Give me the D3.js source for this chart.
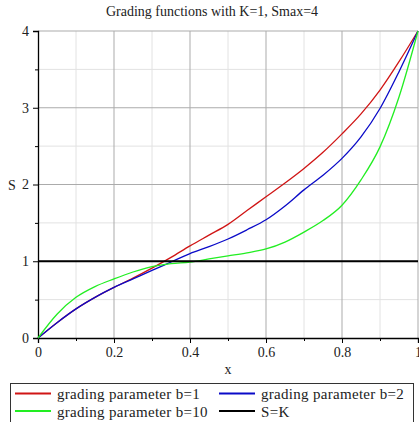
<!DOCTYPE html>
<html>
<head>
<meta charset="utf-8">
<script src="https://cdn.jsdelivr.net/npm/d3@7"></script>
<style>
  body { margin: 0; background: #fff; }
  svg text { font-family: "Liberation Serif", "DejaVu Serif", serif; fill: #222; }
</style>
</head>
<body>
<div id="chart"></div>
<script>
// values
const xs = [0, 0.05, 0.1, 0.15, 0.2, 0.25, 0.3, 0.35, 0.4, 0.45, 0.5,
    0.55, 0.6, 0.65, 0.7, 0.75, 0.8, 0.85, 0.9, 0.95, 1];
const gradeB1 = [0, 0.20, 0.38, 0.53, 0.66, 0.78, 0.91, 1.05, 1.20, 1.34, 1.48,
    1.66, 1.84, 2.02, 2.21, 2.42, 2.66, 2.92, 3.23, 3.60, 4];
const gradeB2 = [0, 0.20, 0.38, 0.53, 0.66, 0.77, 0.88, 0.99, 1.10, 1.19, 1.29,
    1.41, 1.54, 1.72, 1.93, 2.12, 2.34, 2.62, 2.99, 3.47, 4];
const gradeB10 = [0, 0.31, 0.53, 0.67, 0.77, 0.86, 0.93, 0.97, 0.99, 1.03, 1.07,
    1.11, 1.16, 1.25, 1.38, 1.53, 1.73, 2.06, 2.49, 3.14, 4];
const sK = 1;

const xTicks = [0, 0.2, 0.4, 0.6, 0.8, 1];
const yTicks = [0, 1, 2, 3, 4];

const seriesNames = ["grading parameter b=1", "grading parameter b=2",
    "grading parameter b=10", "S=K"];
const seriesColors = ["#d01515", "#0a0ac8", "#22ee22", "#000000"];

const w = 419, h = 422;
const margin = {top: 31, right: 1, bottom: 84, left: 38};

const svg = d3.select("#chart").append("svg")
    .attr("width", w)
    .attr("height", h);

const x = d3.scaleLinear().domain([0, 1]).range([margin.left, w - margin.right]);
const y = d3.scaleLinear().domain([0, 4]).range([h - margin.bottom, margin.top]);

// minor grid
svg.append("g")
    .selectAll("line")
    .data(d3.range(1, 10, 2).map(i => i / 10))
    .enter().append("line")
    .attr("x1", d => x(d)).attr("x2", d => x(d))
    .attr("y1", y(0)).attr("y2", y(4))
    .attr("stroke", "#e2e2e2");
svg.append("g")
    .selectAll("line")
    .data([0.5, 1.5, 2.5, 3.5])
    .enter().append("line")
    .attr("x1", x(0)).attr("x2", x(1))
    .attr("y1", d => y(d)).attr("y2", d => y(d))
    .attr("stroke", "#e2e2e2");

// major grid
svg.append("g")
    .selectAll("line")
    .data(xTicks.slice(1))
    .enter().append("line")
    .attr("x1", d => x(d)).attr("x2", d => x(d))
    .attr("y1", y(0)).attr("y2", y(4))
    .attr("stroke", "#ababab");
svg.append("g")
    .selectAll("line")
    .data(yTicks.slice(1))
    .enter().append("line")
    .attr("x1", x(0)).attr("x2", x(1))
    .attr("y1", d => y(d)).attr("y2", d => y(d))
    .attr("stroke", "#ababab");

// axes
svg.append("g")
    .attr("transform", "translate(0," + y(0) + ")")
    .call(d3.axisBottom(x).tickValues(xTicks).tickSize(5).tickPadding(4)
        .tickFormat(d => d === 0 || d === 1 ? d3.format("d")(d) : d3.format(".1f")(d)));
svg.append("g")
    .attr("transform", "translate(0," + y(0) + ")")
    .call(d3.axisBottom(x).tickValues(d3.range(1, 10, 2).map(i => i / 10)).tickSize(3).tickFormat(""))
    .select(".domain").remove();

svg.append("g")
    .attr("transform", "translate(" + x(0) + ",0)")
    .call(d3.axisLeft(y).tickValues(yTicks).tickSize(5).tickPadding(4).tickFormat(d3.format("d")));
svg.append("g")
    .attr("transform", "translate(" + x(0) + ",0)")
    .call(d3.axisLeft(y).tickValues([0.5, 1.5, 2.5, 3.5]).tickSize(3).tickFormat(""))
    .select(".domain").remove();

svg.selectAll(".domain").attr("stroke", "#000").attr("stroke-width", 1.3);
svg.selectAll(".tick line").attr("stroke", "#000");
svg.selectAll(".tick text")
    .style("font-family", "'Liberation Serif', serif")
    .style("font-size", "14px")
    .attr("fill", "#222");

// data lines
const line = d3.line()
    .x((d, i) => x(xs[i]))
    .y(d => y(d))
    .curve(d3.curveMonotoneX);

[gradeB1, gradeB2, gradeB10].forEach(function (s, i) {
    svg.append("path")
        .datum(s)
        .attr("fill", "none")
        .attr("stroke", seriesColors[i])
        .attr("stroke-width", 1.3)
        .attr("d", line);
});

svg.append("line")
    .attr("x1", x(0)).attr("x2", x(1))
    .attr("y1", y(sK)).attr("y2", y(sK))
    .attr("stroke", seriesColors[3])
    .attr("stroke-width", 2.2);

// titles
svg.append("text")
    .attr("x", 212).attr("y", 16)
    .attr("text-anchor", "middle")
    .style("font-size", "14px")
    .text("Grading functions with K=1, Smax=4");

svg.append("text")
    .attr("x", (x(0) + x(1)) / 2).attr("y", 374)
    .attr("text-anchor", "middle")
    .style("font-size", "14px")
    .text("x");

svg.append("text")
    .attr("x", 8).attr("y", y(2) + 5)
    .style("font-size", "14px")
    .text("S");

// legend
const legend = svg.append("g");
legend.append("rect")
    .attr("x", 10.5).attr("y", 383.5)
    .attr("width", 403).attr("height", 50)
    .attr("fill", "#fff")
    .attr("stroke", "#333");

const legPos = [[15, 393.5], [219, 393.5], [15, 411], [219, 411]];
seriesNames.forEach(function (name, i) {
    let g = legend.append("g")
        .attr("transform", "translate(" + legPos[i][0] + "," + legPos[i][1] + ")");
    g.append("line")
        .attr("x1", 0).attr("x2", 36)
        .attr("y1", 0).attr("y2", 0)
        .attr("stroke", seriesColors[i])
        .attr("stroke-width", 2);
    g.append("text")
        .attr("x", 42).attr("y", 5.5)
        .style("font-size", "15px")
        .style("letter-spacing", "0.3px")
        .text(name);
});
</script>
</body>
</html>
